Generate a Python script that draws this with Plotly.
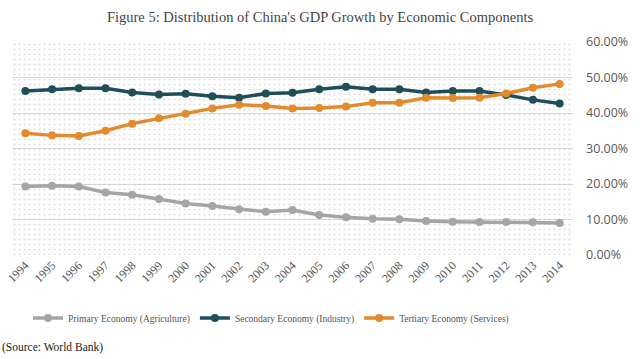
import plotly.graph_objects as go

years = list(range(1994, 2015))
year_labels = [str(y) for y in years]
primary = [19.3, 19.5, 19.3, 17.6, 17.0, 15.8, 14.5, 13.8, 12.9, 12.2, 12.7, 11.3,
           10.6, 10.2, 10.1, 9.6, 9.4, 9.3, 9.3, 9.2, 9.0]
secondary = [46.2, 46.7, 47.0, 47.0, 45.8, 45.2, 45.4, 44.7, 44.3, 45.5, 45.7, 46.7,
             47.4, 46.7, 46.7, 45.8, 46.2, 46.2, 45.1, 43.7, 42.7]
tertiary = [34.3, 33.7, 33.5, 35.0, 37.0, 38.5, 39.8, 41.3, 42.3, 42.0, 41.3, 41.4,
            41.8, 42.9, 42.9, 44.3, 44.2, 44.3, 45.5, 47.1, 48.2]
y_ticks = [0, 10, 20, 30, 40, 50, 60]

series = [
    ("Primary Economy (Agriculture)", primary, "#A5A5A5"),
    ("Secondary Economy (Industry)", secondary, "#1F4E5A"),
    ("Tertiary Economy (Services)", tertiary, "#E38A2C"),
]

SERIF = "Liberation Serif, Times New Roman, serif"

x_lo, x_hi = years[0] - 0.5, years[-1] + 0.5
y_lo, y_hi = y_ticks[0], y_ticks[-1]

fig = go.Figure()

# dotted background texture covering plot area
fig.add_trace(go.Scatter(
    x=[x_lo, x_hi, x_hi, x_lo, x_lo], y=[y_lo, y_lo, y_hi, y_hi, y_lo],
    fill="toself", mode="none", fillcolor="rgba(0,0,0,0)",
    fillpattern=dict(shape=".", size=5, solidity=0.14, fgcolor="#bdbdbd",
                     bgcolor="rgba(0,0,0,0)"),
    showlegend=False, hoverinfo="skip"))

for name, vals, color in series:
    fig.add_trace(go.Scatter(
        x=years, y=vals, name=name, mode="lines+markers",
        line=dict(color=color, width=3.5),
        marker=dict(color=color, size=8)))

fig.update_layout(
    width=640, height=359,
    margin=dict(l=12, r=67, t=42, b=104),
    paper_bgcolor="white", plot_bgcolor="white",
    title=dict(text="Figure 5: Distribution of China's GDP Growth by Economic Components",
               x=0.5, xref="container", xanchor="center",
               y=1 - 17 / 359, yref="container", yanchor="middle",
               font=dict(family=SERIF, size=14.5, color="#444444")),
    legend=dict(orientation="h", x=28 / 640, xref="container", xanchor="left",
                y=1 - 318 / 359, yref="container", yanchor="middle",
                font=dict(family=SERIF, size=9.5, color="#555555"),
                itemwidth=30, tracegroupgap=0),
    showlegend=True,
)
fig.update_xaxes(
    range=[x_lo, x_hi], tickvals=years, ticktext=year_labels, tickangle=-45,
    showgrid=False, zeroline=False, showline=False, ticks="", automargin=False,
    tickfont=dict(family=SERIF, size=12, color="#555555"))
fig.update_yaxes(
    range=[y_lo, y_hi], tickvals=y_ticks, automargin=False,
    ticktext=[f"{v:.2f}%" for v in y_ticks], side="right",
    showgrid=True, gridcolor="#d9d9d9", gridwidth=1, zeroline=False,
    showline=False, ticks="", ticklabelstandoff=12,
    tickfont=dict(family="Open Sans", size=12.5, color="#595959"))

fig.add_annotation(text="(Source: World Bank)", xref="paper", yref="paper",
                   x=0, y=0, xanchor="left", yanchor="middle",
                   xshift=-12, yshift=-92, showarrow=False,
                   font=dict(family=SERIF, size=11.5, color="#222222"))

fig.write_html("out.html", config={"displayModeBar": False},
               post_script="document.body.style.margin='0';document.body.style.overflow='hidden';")
